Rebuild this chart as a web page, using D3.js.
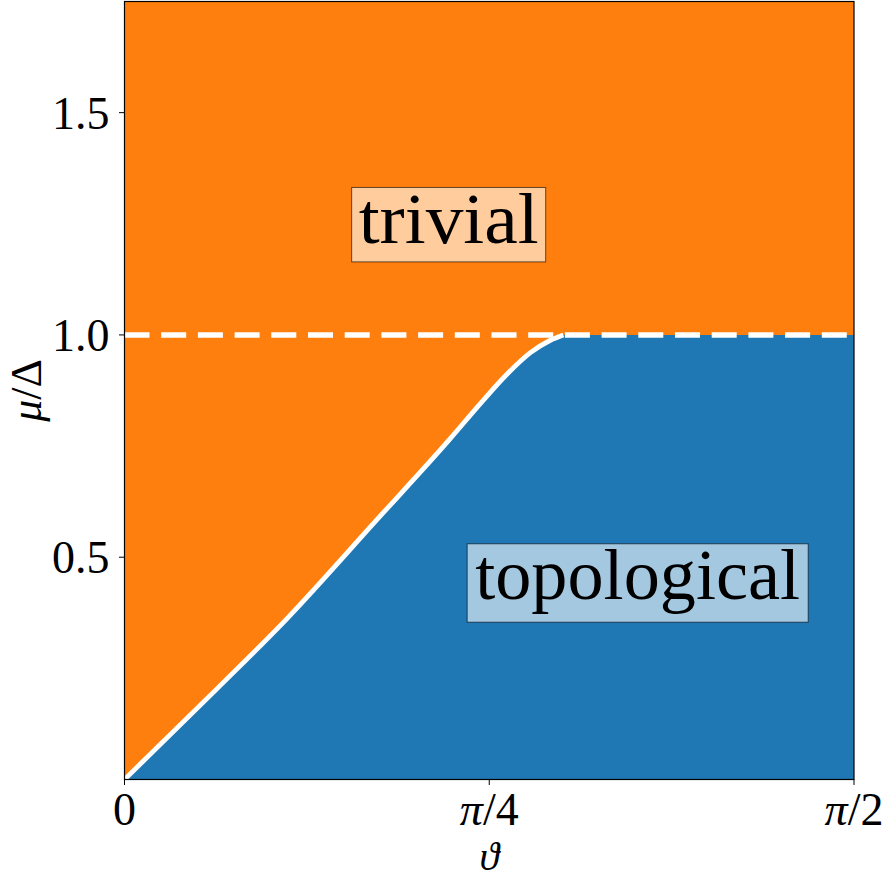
<!DOCTYPE html>
<html>
<head>
<meta charset="utf-8" />
<style>
	body { margin: 0; background: #fff; }
	svg text { font-family: 'Liberation Serif', 'DejaVu Serif', serif; fill: #000; }
</style>
</head>
<body>
<div class="chart"></div>
<script src="https://d3js.org/d3.v7.min.js"></script>
<script>
//// data ////
// phase boundary mu/Delta as a function of theta
var boundaryTheta = [0, 0.200, 0.350, 0.544, 0.700, 0.770, 0.824, 0.874, 0.917, 0.945];
var boundaryMu    = [0, 0.205, 0.362, 0.585, 0.765, 0.850, 0.912, 0.960, 0.988, 1.000];
var muMax = 1.0;           // flat part of the boundary up to pi/2
var dashedLevel = 1.0;     // dashed white line
var yTicks = [0.5, 1.0, 1.5];
var yTickLabels = ['0.5', '1.0', '1.5'];
var xTicks = [0, Math.PI / 4, Math.PI / 2];
var xTickLabels = [['0'], ['π', '/4'], ['π', '/2']];
var regionLabels = ['trivial', 'topological'];

// dimensions
var margin = {top: 1.5, right: 34, bottom: 99.5, left: 124.5},
    width = 888 - margin.left - margin.right,
    height = 879 - margin.top - margin.bottom;

var x = d3.scaleLinear().domain([0, Math.PI / 2]).range([0, width]);
var y = d3.scaleLinear().domain([0, 1.75]).range([height, 0]);

var svg = d3.select('.chart').append('svg')
	.attr('width', 888)
	.attr('height', 879);

var g = svg.append('g')
	.attr('transform', 'translate(' + margin.left + ',' + margin.top + ')');

g.append('clipPath').attr('id', 'plotclip')
	.append('rect').attr('width', width).attr('height', height);

var plot = g.append('g').attr('clip-path', 'url(#plotclip)');

// trivial background
plot.append('rect')
	.attr('width', width).attr('height', height)
	.attr('fill', '#ff7f0e');

// topological region under the boundary
var pts = boundaryTheta.map(function(t, i) { return [t, boundaryMu[i]]; });
var areaPts = pts.concat([[Math.PI / 2, muMax]]);

var area = d3.area()
	.x(function(d) { return x(d[0]); })
	.y0(y(0))
	.y1(function(d) { return y(d[1]); })
	.curve(d3.curveMonotoneX);

plot.append('path')
	.datum(areaPts)
	.attr('fill', '#1f77b4')
	.attr('d', area);

// boundary line
var line = d3.line()
	.x(function(d) { return x(d[0]); })
	.y(function(d) { return y(d[1]); })
	.curve(d3.curveMonotoneX);

plot.append('path')
	.datum(pts)
	.attr('fill', 'none')
	.attr('stroke', '#fff')
	.attr('stroke-width', 4.8)
	.attr('d', line);

// dashed line at mu = Delta
plot.append('line')
	.attr('x1', x(0)).attr('x2', x(Math.PI / 2))
	.attr('y1', y(dashedLevel)).attr('y2', y(dashedLevel))
	.attr('stroke', '#fff')
	.attr('stroke-width', 5.5)
	.attr('stroke-dasharray', '25,11.7');

// region labels with boxes
function labelBox(text, cx, cy, w, h, baseOff, textLen) {
	var lg = g.append('g');
	lg.append('rect')
		.attr('x', x(cx) - w / 2).attr('y', y(cy) - h / 2)
		.attr('width', w).attr('height', h)
		.attr('fill', '#fff').attr('fill-opacity', 0.6)
		.attr('stroke', '#000').attr('stroke-opacity', 0.6).attr('stroke-width', 1);
	lg.append('text')
		.attr('x', x(cx)).attr('y', y(cy) + baseOff)
		.attr('text-anchor', 'middle')
		.attr('font-size', 72)
		.attr('textLength', textLen)
		.attr('lengthAdjust', 'spacingAndGlyphs')
		.text(text);
}
labelBox(regionLabels[0], 0.698, 1.248, 194, 74.4, 18.8, 180);
labelBox(regionLabels[1], 1.105, 0.442, 341, 78.4, 15.8, 325);

// frame
g.append('rect')
	.attr('width', width).attr('height', height)
	.attr('fill', 'none').attr('stroke', '#000').attr('stroke-width', 1.2);

// y axis ticks
var yAxis = g.append('g');
yTicks.forEach(function(v, i) {
	yAxis.append('line')
		.attr('x1', -5.5).attr('x2', 0)
		.attr('y1', y(v)).attr('y2', y(v))
		.attr('stroke', '#000').attr('stroke-width', 1);
	yAxis.append('text')
		.attr('x', -15).attr('y', y(v) + 16)
		.attr('text-anchor', 'end')
		.attr('font-size', 46)
		.text(yTickLabels[i]);
});

// x axis ticks
var xAxis = g.append('g').attr('transform', 'translate(0,' + height + ')');
xTicks.forEach(function(v, i) {
	xAxis.append('line')
		.attr('x1', x(v)).attr('x2', x(v))
		.attr('y1', 0).attr('y2', 5.5)
		.attr('stroke', '#000').attr('stroke-width', 1);
	var t = xAxis.append('text')
		.attr('x', x(v)).attr('y', 45)
		.attr('text-anchor', 'middle')
		.attr('font-size', 46);
	xTickLabels[i].forEach(function(part, j) {
		t.append('tspan')
			.attr('font-style', part === 'π' ? 'italic' : 'normal')
			.text(part);
	});
});

// axis titles
g.append('text')
	.attr('x', x(Math.PI / 4)).attr('y', height + 90.5)
	.attr('text-anchor', 'middle')
	.attr('font-size', 40)
	.attr('font-style', 'italic')
	.text('ϑ');

var yl = g.append('text')
	.attr('transform', 'translate(' + (-83.5) + ',' + (height / 2) + ') rotate(-90)')
	.attr('text-anchor', 'middle')
	.attr('font-size', 44);
yl.append('tspan').attr('font-style', 'italic').text('μ');
yl.append('tspan').text('/Δ');
</script>
</body>
</html>
